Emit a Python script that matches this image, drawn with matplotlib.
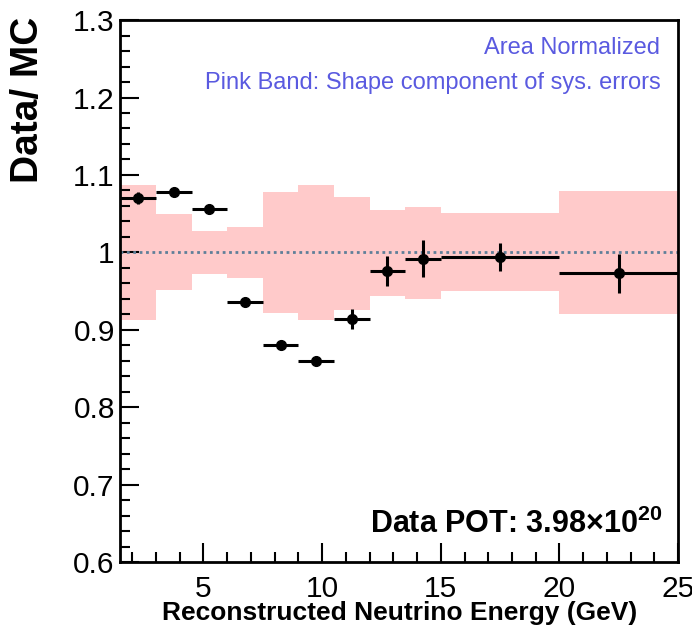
import numpy as np
import matplotlib.pyplot as plt

# ===================== DATA ================================================ #

bin_edges = [1.5, 3, 4.5, 6, 7.5, 9, 10.5, 12, 13.5, 15, 20, 25]
ratio = [1.070, 1.078, 1.056, 0.936, 0.880, 0.860, 0.914, 0.976, 0.992, 0.994, 0.973]
ratio_err = [0.008, 0.004, 0.004, 0.004, 0.004, 0.005, 0.013, 0.019, 0.024, 0.018, 0.025]
band_hi = [1.087, 1.050, 1.027, 1.033, 1.078, 1.087, 1.072, 1.055, 1.059, 1.051, 1.079]
band_lo = [0.913, 0.951, 0.972, 0.967, 0.922, 0.913, 0.926, 0.944, 0.940, 0.950, 0.921]

pot_text = r'Data POT: 3.98$\mathbf{\times}$10$^{\mathbf{20}}$'

# ============================ PLOTTING ===================================== #

plt.rcParams['font.family'] = ['Liberation Sans', 'DejaVu Sans']
plt.rcParams['mathtext.fontset'] = 'custom'
plt.rcParams['mathtext.rm'] = 'Liberation Sans'
plt.rcParams['mathtext.bf'] = 'Liberation Sans:bold'

edges = np.array(bin_edges)
centers = 0.5 * (edges[:-1] + edges[1:])
halfw = 0.5 * np.diff(edges)
hi = np.array(band_hi)
lo = np.array(band_lo)

fig = plt.figure(figsize=(6.92, 6.28), dpi=100)
ax = fig.add_axes([0.174, 0.105, 0.806, 0.863])

# pink shape-systematics band
ax.bar(edges[:-1], hi - lo, bottom=lo, width=np.diff(edges), align='edge',
       color='#ffcaca', linewidth=0, zorder=1)

# unity line
ax.axhline(1.0, color='#5f7f99', linestyle=(0, (1, 1.3)), linewidth=2, zorder=2)

# data points
ax.errorbar(centers, ratio, xerr=halfw, yerr=ratio_err, fmt='o', color='k',
            ms=7, elinewidth=2.2, capsize=0, zorder=3)

ax.set_xlim(1.5, 25)
ax.set_ylim(0.6, 1.3)
ax.set_xticks([5, 10, 15, 20, 25])
ax.set_xticks(np.arange(2, 25, 1), minor=True)
ax.set_yticks(np.arange(0.6, 1.31, 0.1))
ax.set_yticklabels(['0.6', '0.7', '0.8', '0.9', '1', '1.1', '1.2', '1.3'])
ax.set_yticks(np.arange(0.6, 1.3, 0.02), minor=True)
ax.tick_params(which='both', direction='in', top=False, right=False,
               labelsize=21.5, width=1.5)
ax.tick_params(which='major', length=14)
ax.tick_params(axis='y', which='major', pad=4)
ax.tick_params(axis='x', which='major', pad=9)
ax.tick_params(which='minor', length=7)
for s in ax.spines.values():
    s.set_linewidth(2)

ax.set_xlabel('Reconstructed Neutrino Energy (GeV)', fontsize=19,
              fontweight='bold', labelpad=-1)
ax.set_ylabel('Data/ MC', fontsize=28, fontweight='bold')
ax.yaxis.set_label_coords(-0.134, 0.852)

ax.text(0.968, 0.968, 'Area Normalized', transform=ax.transAxes,
        ha='right', va='top', fontsize=17, color='#5a5ae0')
ax.text(0.968, 0.905, 'Pink Band: Shape component of sys. errors',
        transform=ax.transAxes, ha='right', va='top', fontsize=17,
        color='#5a5ae0')
ax.text(0.972, 0.04, pot_text, transform=ax.transAxes, ha='right',
        va='bottom', fontsize=22, fontweight='bold')

fig.savefig('out.png', dpi=100)
